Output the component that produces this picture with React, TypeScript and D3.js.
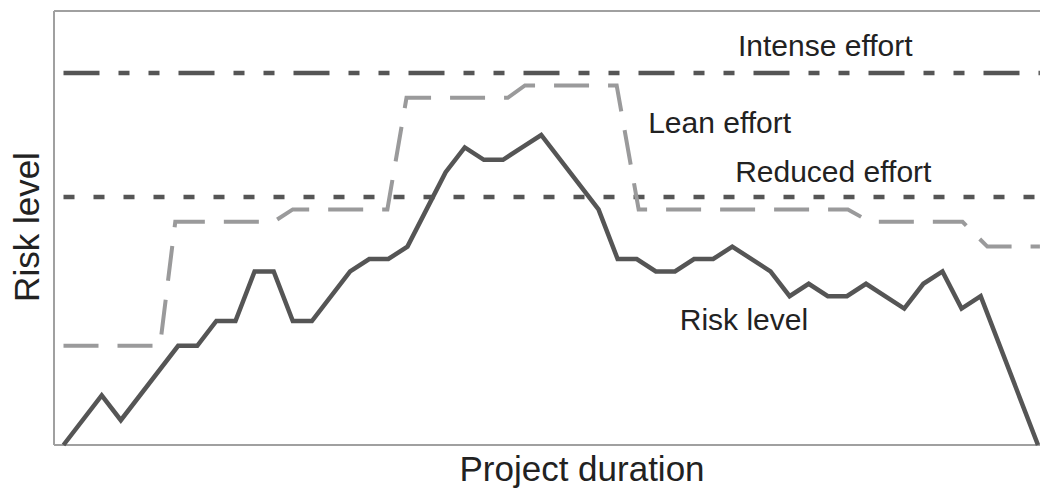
import React from "react";
import * as d3 from "d3";

// Risk level curve (x = project step index, y = risk units)
const riskX = [0, 2, 3, 6, 7, 8, 9, 10, 11, 12, 13, 15, 16, 17, 18, 19, 20, 21, 22, 23, 24, 25, 28, 29, 30, 31, 32, 33, 34, 35, 37, 38, 39, 40, 41, 42, 44, 45, 46, 47, 48, 51];
const riskY = [0, 4, 2, 8, 8, 10, 10, 14, 14, 10, 10, 14, 15, 15, 16, 19, 22, 24, 23, 23, 24, 25, 19, 15, 15, 14, 14, 15, 15, 16, 14, 12, 13, 12, 12, 13, 11, 13, 14, 11, 12, 0];

// Lean effort stepped curve
const leanX = [0, 5.05, 5.85, 11, 12, 16.95, 17.95, 23.25, 24.15, 28.95, 30.1, 41.05, 42.2, 47.05, 48.35, 51.1];
const leanY = [8, 8, 18, 18, 19, 19, 28, 28, 29, 29, 19, 19, 18, 18, 16, 16];

// Constant effort levels
const intenseLevel = 30;
const reducedLevel = 20;
const levelSpan = [0, 51.1];

const labels = [
  { text: "Intense effort", x: 35.3, y: 31.4 },
  { text: "Lean effort", x: 30.6, y: 25.15 },
  { text: "Reduced effort", x: 35.15, y: 21.2 },
  { text: "Risk level", x: 32.25, y: 9.25 },
];

const xTitle = "Project duration";
const yTitle = "Risk level";

const W = 1040;
const H = 488;

export default function App() {
  const x = d3.scaleLinear().domain([0, 51]).range([63.5, 1038]);
  const y = d3.scaleLinear().domain([0, 35]).range([445, 11]);

  const line = d3
    .line<[number, number]>()
    .x((d) => x(d[0]))
    .y((d) => y(d[1]));

  const riskPts: [number, number][] = riskX.map((v, i) => [v, riskY[i]]);
  const leanPts: [number, number][] = leanX.map((v, i) => [v, leanY[i]]);
  const intensePts: [number, number][] = levelSpan.map((v) => [v, intenseLevel]);
  const reducedPts: [number, number][] = levelSpan.map((v) => [v, reducedLevel]);

  const font = "'Liberation Sans', Arial, Helvetica, sans-serif";
  const frame = "#a0a0a0";
  const dark = "#555555";
  const light = "#9a9a9b";

  return (
    <svg
      width={W}
      height={H}
      style={{ position: "absolute", left: 0, top: 0, background: "#fff" }}
    >
      {/* frame */}
      <line x1={54} y1={11} x2={W} y2={11} stroke={frame} strokeWidth={2} />
      <line x1={54} y1={11} x2={54} y2={445} stroke={frame} strokeWidth={2} />
      <line x1={54} y1={445} x2={W} y2={445} stroke={frame} strokeWidth={2} />

      <path
        d={line(intensePts) || ""}
        fill="none"
        stroke={dark}
        strokeWidth={4.5}
        strokeDasharray="36 19 11 19 11 19"
      />
      <path
        d={line(reducedPts) || ""}
        fill="none"
        stroke={dark}
        strokeWidth={4.5}
        strokeDasharray="11 19"
      />
      <path
        d={line(leanPts) || ""}
        fill="none"
        stroke={light}
        strokeWidth={4}
        strokeDasharray="35 19"
      />
      <path
        d={line(riskPts) || ""}
        fill="none"
        stroke={dark}
        strokeWidth={4.5}
        strokeLinejoin="miter"
      />

      {labels.map((l) => (
        <text
          key={l.text}
          x={x(l.x)}
          y={y(l.y)}
          fontFamily={font}
          fontSize={30}
          fill="#222"
        >
          {l.text}
        </text>
      ))}

      <text
        x={582}
        y={481}
        textAnchor="middle"
        fontFamily={font}
        fontSize={35}
        fill="#222"
      >
        {xTitle}
      </text>
      <text
        transform="translate(39,227) rotate(-90)"
        textAnchor="middle"
        fontFamily={font}
        fontSize={35}
        fill="#222"
      >
        {yTitle}
      </text>
    </svg>
  );
}
